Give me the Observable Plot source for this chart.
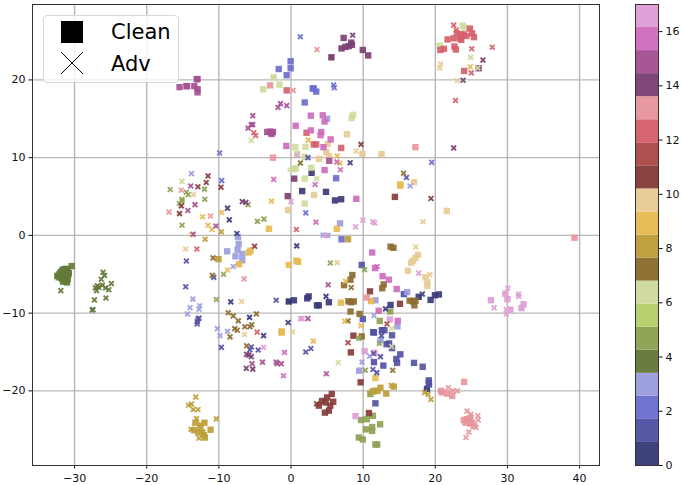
<!DOCTYPE html>
<html><head><meta charset="utf-8">
<script src="https://cdn.jsdelivr.net/npm/d3@7"></script>
<script src="https://cdn.jsdelivr.net/npm/@observablehq/plot@0.6"></script>
<style>
html,body{margin:0;padding:0;background:#fff;}
#root{position:relative;width:681px;height:485px;overflow:hidden;font-family:"DejaVu Sans",sans-serif;}
#root svg{font-family:"DejaVu Sans",sans-serif;}
.abs{position:absolute;}
#legend{position:absolute;left:43px;top:15px;width:134px;height:66px;border:1px solid #d8d8d8;border-radius:4px;background:rgba(255,255,255,.8);color:#000;font-size:21px;}
#legend span{position:absolute;left:67px;line-height:22px;}
#legend svg{position:absolute;left:16px;width:24px;height:24px;}
</style></head><body>
<div id="root"></div>
<script>
const palette=["#393b79","#5254a3","#6b6ecf","#9c9ede","#637939","#8ca252","#b5cf6b","#cedb9c","#8c6d31","#bd9e39","#e7ba52","#e7cb94","#843c39","#ad494a","#d6616b","#e7969c","#7b4173","#a55194","#ce6dbd","#de9ed6"];
const barEdges=[0,0.85,1.7,2.55,3.4,4.25,5.1,5.95,6.8,7.65,8.5,9.35,10.2,11.05,11.9,12.75,13.6,14.45,15.3,16.15,17];
const xTicks=[-30,-20,-10,0,10,20,30,40];
const yTicks=[-20,-10,0,10,20];
const barTicks=[0,2,4,6,8,10,12,14,16];

const clean0=[[2.85,8.05],[1.55,5.7],[4.85,5.6],[6.1,4.5],[6.95,4.65],[2.45,-7.85],[2.25,-8.1],[3.6,-9],[3.85,-9],[5.25,-8.6],[13.8,-8.95],[17.7,-7.9],[19.35,-8.3],[19.95,-7.7],[20.5,-7.6],[18.85,-19.75],[-0.3,-8.5],[0.4,-8.35]];
const clean1=[[11.5,-12.5],[11.4,-12.45],[12.95,-12.2],[12.6,-12.2],[14,-12.85],[13.25,-14],[13.6,-13.9],[14,-14.5],[15.15,-15.3],[14.6,-15.9],[14.7,-16.4],[11.5,-16.3],[12.8,-16.75],[17.05,-16.4],[18.25,-16.9],[19.1,-18.65],[19.1,-19],[11.7,-21.6],[15.65,-7.55],[9.95,-10.75],[9.8,-3.8]];
const clean2=[[-1.7,21.4],[-0.6,20.6],[-0.05,22.4],[-0.05,21.5],[3.15,18.9],[3.5,18.5],[3,18.9],[1.9,17.1],[6.25,7.35],[7,-0.5]];
const clean3=[[5,15],[6.8,1.55],[-8.85,-2.05],[-7.25,-1.1],[-7.4,-1.85],[-7.7,-2.7],[-6.75,-2.4],[-6.75,-3.2],[-7.35,-0.2],[16.1,-7.3],[11.7,-8.35],[14.75,-11.7],[12.4,-13.5],[9.45,-17.4]];
const clean4=[[-30.4,-3.95],[-31.5,-4.35],[-31,-4.55],[-31.95,-4.75],[-31.25,-5],[-30.8,-4.85],[-32.2,-5.4],[-31.75,-5.6],[-31.25,-5.9],[-32.4,-5.2],[-31.5,-4.8],[-31.95,-5.2],[-31.4,-5.5],[-30.9,-5.15],[-31.6,-5.95],[-31.15,-4.3],[-31.7,-4.5],[-32.1,-5],[-30.95,-5.6],[-31.05,-6.05]];
const clean5=[[11,-20.4],[11.35,-23.2],[9.7,-23.75],[10.5,-23.65],[12.35,-24.3],[10.4,-24.95],[11.25,-24.65],[11.25,-25.15],[9.4,-26],[9.95,-26.25],[11.7,-26.9],[11.95,-26.9],[12.3,-11],[13.75,-9.8]];
const clean6=[];
const clean7=[[-3.85,18.8],[-2.4,20.3],[-1.6,19.4],[0.6,11.35],[0.85,10.5],[0.4,8.55],[0.65,8.6],[2,11.4],[2.8,8.7],[1.9,7.3],[1.9,4.1],[8.4,15.1],[8.6,15.5],[23.8,27],[24.1,26.7],[20.6,24.4],[1.9,10.1]];
const clean8=[[13.8,-1.45],[14.2,-1.6],[8.5,-5.1],[8.25,-5.7],[7.35,-6.4],[12.85,-6.3],[12.65,-6.8],[8,-8.5],[8.35,-8.6],[8.7,-8.5],[8.25,-9.8],[9.5,-10.1],[9.8,-13],[16.45,-8.4],[16.9,-8.5],[17.25,-8.4],[17.1,-9]];
const clean9=[[-13.25,-24.1],[-12,-24.1],[-13.45,-25.05],[-12.85,-25.35],[-12.3,-25.35],[-11.15,-25],[-12.1,-25.7],[-11.95,-26],[-12.55,-24.7],[-10.05,-3.05],[7.9,-0.5],[11.55,-20],[12,-20],[12.4,-19.6],[11.25,-20.1],[13.2,-20.35],[14.25,-19.45]];
const clean10=[[-3.05,0.85],[15.15,6.55],[15.15,6.4],[6.35,0.85],[-7.2,-3.7],[-5.85,-2.2],[-5.6,-1.95],[-0.3,-3.8],[0.75,-3.25],[1,-3.4],[-1.3,-12.5],[-1.3,-12.35],[6.9,-8.65],[11.1,-8.45],[11.7,-18.35]];
const clean11=[[-0.4,3.25],[7.75,13],[5.1,11.75],[4.9,10.7],[5.25,10.2],[3.9,9.85],[9.9,10.5],[12.55,10.45],[17.05,6.85],[3.2,5.2],[21.6,3.15],[17.6,-2.5],[17.25,-2.9],[16.9,-3.25],[16.65,-3.5],[16.2,-4.55],[18.65,-5.4],[18.9,-6.05],[18.9,-6.5]];
const clean12=[[14.4,4.95],[10.95,-7.2],[15.1,-8.8],[8.65,-12.9],[8.3,-15.05],[9.65,-18.9],[10.8,-22.85],[5.65,-20.4],[5,-20.85],[4.3,-21.3],[5.85,-21.4],[4.8,-21.5],[5.45,-21.9],[3.85,-21.9],[5.25,-22.55],[4.7,-22.8]];
const clean13=[];
const clean14=[[-0.6,18.65],[24.8,26.6],[23,26],[23.5,25.85],[23.95,25.85],[23.4,25.35],[23.6,25.15],[24.3,25.65],[25.1,26],[25.35,25.5],[21.7,25.2],[22.55,25.35],[21.2,24],[20.7,23.85],[22.65,24.3],[22.85,23.9],[24,21.15],[2.15,13.2],[3.15,11.7],[3.5,11.7],[6.95,11.25]];
const clean15=[[-2.9,19.3],[-2.5,10],[17.25,11.35],[39.3,-0.3],[10.5,-8],[24,-18.85],[20.8,-20],[21.65,-20.35],[22.35,-20.65],[20.95,-20.2],[23.95,-23.75],[24.4,-23.65],[24.85,-23.45],[25.1,-24.1],[25.35,-24.5],[24.85,-24.2],[24.65,-23.85],[24.2,-24.1]];
const clean16=[[0.45,7.3],[-0.45,5.05],[7.3,25.4],[7,24.05],[7.55,24.25],[8,24.35],[8.35,24.8],[8.45,24.5],[5.6,22.9],[9.95,23.85],[10.7,23.15],[26,21.5]];
const clean17=[[-15.45,19.07],[-14.5,19.2],[-14.4,19.2],[-13.4,19.2],[-13.05,20.1],[-12.95,20.1],[-12.95,18.8],[-12.95,18.4],[-3.3,13.3],[-2.9,13.35],[-2.7,13.2],[-2.5,13.3],[-2.7,13.05],[5.3,9.6]];
const clean18=[[0.65,14.1],[-0.65,11.5],[2.75,15.4],[4.4,15.45],[4.65,14.65],[2.75,13.5],[4.2,13.3],[4.1,12.9],[5.5,12.35],[4.5,11.35],[4.65,8.4],[9.05,4.7],[11.25,-2.2],[11.65,-4.2],[12.7,-5.25],[13.55,-5.7],[14.65,-6.9],[12.15,-9.7],[14.8,-11]];
const clean19=[[29.7,-7.5],[30,-8.2],[27.7,-8.35],[30.4,-9.55],[31.95,-9.35],[32.25,-8.85],[13.7,-10.8],[10.2,-14.9],[11.55,-15.1],[8.95,-23.25]];

const adv0=[[-8.8,3.5],[-8.55,2],[-7.5,0.25],[8.2,9.35],[-8.35,-8.55],[-0.3,-8.5],[-0.4,-11.2],[-3.8,-12.9],[0.8,-1.35],[-5.75,-10.55],[4.85,-7.85],[18.2,-7.55],[13.1,-9.45]];
const adv1=[[2.35,10],[16,7.45],[-14.5,-3.3],[-14.6,-6.6],[-10.7,-5.4],[-2.05,-8.35],[-12.9,-10.75],[-12.75,-10.65],[-13,-11.1],[-13,-11.4],[-9.65,-14.4],[-5.5,-14.35],[-5.7,-14.7],[-4.55,-14.75],[12.55,-12.2],[12.55,-12.9],[11.45,-15.2],[12.4,-15.6],[11.35,-17.25],[11.9,-17.65],[2.75,-14.55],[2.05,-15],[19.2,-19.25],[19.2,-18.95]];
const adv2=[[-9.9,10.6],[1.3,25.55],[-9.6,7.05],[5.9,19.35],[6,19],[19.5,9.4],[2.05,2.9]];
const adv3=[[-13.8,7.95],[16.5,6.35],[4.45,0.05],[5.1,0],[-8,-4],[-13.6,-8.2],[-14,-9.3],[-12.65,-9.05],[-12.75,-9.5],[-14.35,-10.1],[-10.2,-12],[-9.85,-12.9],[-8.8,-12.35],[11.5,-10.3],[9.85,-16.3],[10.9,-15.55]];
const adv4=[[-31.9,-7.1],[-26.05,-4.75],[-25.85,-5.15],[-26.3,-5.65],[-24.9,-6.2],[-26.15,-6.4],[-26.85,-6.5],[-26.65,-6.7],[-27.1,-6.75],[-26.95,-7.1],[-25.7,-6.75],[-25.25,-7],[-27.25,-8.3],[-25.65,-8.05],[-27.45,-9.55],[-27.55,-9.6]];
const adv5=[[-16.75,5.9],[-14.5,5.55],[-14.25,5.25],[-15.1,4.65],[-15.45,4.1],[-12,5.95],[-11.95,4.65],[-15.1,1.3],[-5.95,3.95],[-4.65,1.8],[-3.75,2.1],[-15.1,4.4],[-9.35,-5],[-10.35,-8.25],[5.45,-3.55],[10.2,-4.4],[9.4,-13.25],[12.25,-13.9],[10.3,-17.35]];
const adv6=[];
const adv7=[[-15.1,6.95],[-5.5,12.2],[-2.4,20.3],[-0.15,8.45],[24.9,22.9],[25.9,21.55],[23.05,19.9],[3.55,7.3],[13.95,-12],[13.95,-14.3],[6.55,-16.35]];
const adv8=[[1.3,9.3],[15.6,8],[-10.8,-2.9],[-10.9,-5.15],[-8.7,-9.95],[-8,-10.35],[-7.3,-11],[-7.8,-12],[-7.45,-12.2],[-8.45,-13.05],[-6.4,-11.75],[-5.7,-11.75],[-5.45,-11.5],[-4.8,-10.1],[-6.15,-14.2],[8.35,-6.7],[7.85,-8.4],[7.9,-11],[14.1,-17.35]];
const adv9=[[-9.65,0.45],[-11.9,-0.5],[-13.2,-20.8],[-14.2,-21.85],[-13.8,-21.7],[-13.55,-22.4],[-12.9,-22.4],[-13.1,-23.55],[-10.35,-23.6],[-13.85,-24.95],[-12.55,-24.3],[-12.75,-26.1],[13.9,-19.3],[18.5,-20.2],[19,-20.45],[19.4,-21.1]];
const adv10=[[-2.7,4.4],[-9.6,2.95],[-12.25,2.4],[-11.5,1.3],[-10.95,0.75],[24.85,21.7],[2.4,12.25],[6.4,10.25],[6.75,9.3],[-8.8,-4.45],[7.55,-5.9],[9.7,-11.6],[3.1,-13.6],[7.45,-11.05]];
const adv11=[[-13.55,5.25],[-13.8,0.1],[20.75,22.05],[20.6,21.55],[9.05,10.85],[18.3,1.75],[-14.6,-1.75],[-6.85,-8.5],[-6.45,-12.75],[0.2,-12.4],[6.4,-3.5],[17.3,-1.5],[19.25,-5.05]];
const adv12=[[-11.5,7.65],[-11.75,6.8],[-12.9,6.25],[-9.7,6.2],[-15.2,3.8],[-15.45,2.8],[9.7,11.7],[19.4,4.75],[-5.05,-1.4],[3.55,-21.65]];
const adv13=[[13.3,-11.4],[7.9,-13.8]];
const adv14=[[-5.15,13.2],[-4.9,12.85],[0.75,0.75],[22.55,27.05],[22.9,26.4],[25.05,24],[27.9,24.2],[25,20.9],[22.8,17.35],[-13.05,-1.75],[-4.7,-12.45]];
const adv15=[[-16.9,3],[-15.2,5.8],[-11.15,2.5],[0.3,18.65],[3.6,23.9],[-6.5,-5.6],[21.8,-19.6],[22.4,-20],[23.05,-20],[24.4,-22.6],[24.95,-23],[25.9,-23.2],[25.95,-23.75],[25.65,-24.7],[24.65,-25.3],[24.25,-26]];
const adv16=[[-6.75,4.35],[-6.25,4.25],[8.55,25.75],[5.6,22.95],[26.6,22.55],[23.85,19.95],[22.55,11.25],[-6.15,-15.3],[-5.85,-15.4],[-5.5,-15.6],[-6.2,-17.1],[-5.3,-17.2]];
const adv17=[[-13.9,6.35],[-13.3,3.95],[-14.3,3.2],[-10.4,1.2],[-13.55,0.15],[-5.3,15.4],[-5.5,14.25],[-5.3,14.25],[-5.95,13.8],[-1.8,16.45],[-1.45,16.95],[-0.6,16.7],[-5.4,-16.5],[-3.95,-16.3],[-2.05,-16.3],[-1.9,-16.5],[-1.35,-16.5],[5.15,-6.35],[2.35,-10.7],[4.9,-17.8]];
const adv18=[[-2.4,7.2],[6.35,9.45],[6.85,8.45],[3.35,6.55],[3.45,1.7],[-0.9,-15.05],[-1.05,-18.05],[11.95,-4]];
const adv19=[[0,4.35],[0.85,10.3],[9.95,1.95],[11.35,1.75],[11.6,1.6],[8.95,1.1],[4.8,0],[-3.8,-14.4],[1.3,-10.7],[1.55,-10.7],[17.7,-4.85],[30.05,-6.8],[31.55,-7.55],[31.55,-7.85],[28.15,-9.3],[29.85,-9.55],[29.85,-10.1]];

const cleanByClass=[clean0,clean1,clean2,clean3,clean4,clean5,clean6,clean7,clean8,clean9,clean10,clean11,clean12,clean13,clean14,clean15,clean16,clean17,clean18,clean19];
const advByClass=[adv0,adv1,adv2,adv3,adv4,adv5,adv6,adv7,adv8,adv9,adv10,adv11,adv12,adv13,adv14,adv15,adv16,adv17,adv18,adv19];
const toRows=list=>list.flatMap((pts,c)=>pts.map(([x,y])=>({x,y,color:palette[c]})));
const cleanRows=toRows(cleanByClass), advRows=toRows(advByClass);
const bands=palette.map((color,i)=>({y1:barEdges[i],y2:barEdges[i+1],color}));

const main=Plot.plot({
  width:681,height:485,marginLeft:32,marginRight:82,marginTop:4,marginBottom:20,
  style:{background:"transparent",overflow:"visible"},
  x:{domain:[-35.83,42.76]},
  y:{domain:[-29.6,29.7]},
  marks:[
    Plot.gridX(xTicks,{stroke:"#b0b0b0",strokeOpacity:.9,strokeWidth:1.4}),
    Plot.gridY(yTicks,{stroke:"#b0b0b0",strokeOpacity:.9,strokeWidth:1.4}),
    Plot.dot(cleanRows,{x:"x",y:"y",symbol:"square",r:3.6,fill:"color",fillOpacity:.92,stroke:"none"}),
    Plot.dot(advRows,{x:"x",y:"y",symbol:"times",r:2.3,stroke:"color",strokeWidth:1.9,strokeOpacity:.92}),
    Plot.axisX({ticks:xTicks,label:null,fontSize:11,tickSize:3.5,tickPadding:5,color:"#111"}),
    Plot.axisY({ticks:yTicks,label:null,fontSize:11,tickSize:3.5,tickPadding:3.5,color:"#111"}),
    Plot.frame({stroke:"#333",strokeWidth:1})
  ]
});
main.classList.add("abs");main.style.left="0";main.style.top="0";

const bar=Plot.plot({
  width:81,height:485,marginLeft:35,marginRight:23,marginTop:4,marginBottom:20,
  style:{background:"transparent",overflow:"visible"},
  x:{domain:[0,1],axis:null},
  y:{domain:[0,17]},
  marks:[
    Plot.rect(bands,{x1:()=>0,x2:()=>1,y1:"y1",y2:"y2",fill:"color",fillOpacity:.97}),
    Plot.axisY({anchor:"right",ticks:barTicks,label:null,fontSize:11,tickSize:3.5,tickPadding:3.5,color:"#111"}),
    Plot.frame({stroke:"#333",strokeWidth:1})
  ]
});
bar.classList.add("abs");bar.style.left="600px";bar.style.top="0";

const root=document.getElementById("root");
root.append(main,bar);
const legend=document.createElement("div");
legend.id="legend";
legend.innerHTML=`
<svg style="top:4px" viewBox="0 0 24 24"><rect x="1" y="1" width="22" height="22" fill="#000"/></svg>
<span style="top:5px">Clean</span>
<svg style="top:35px" viewBox="0 0 24 24"><path d="M1 1L23 23M23 1L1 23" stroke="#000" stroke-width="1" fill="none"/></svg>
<span style="top:37px">Adv</span>`;
root.append(legend);
</script>
</body></html>
